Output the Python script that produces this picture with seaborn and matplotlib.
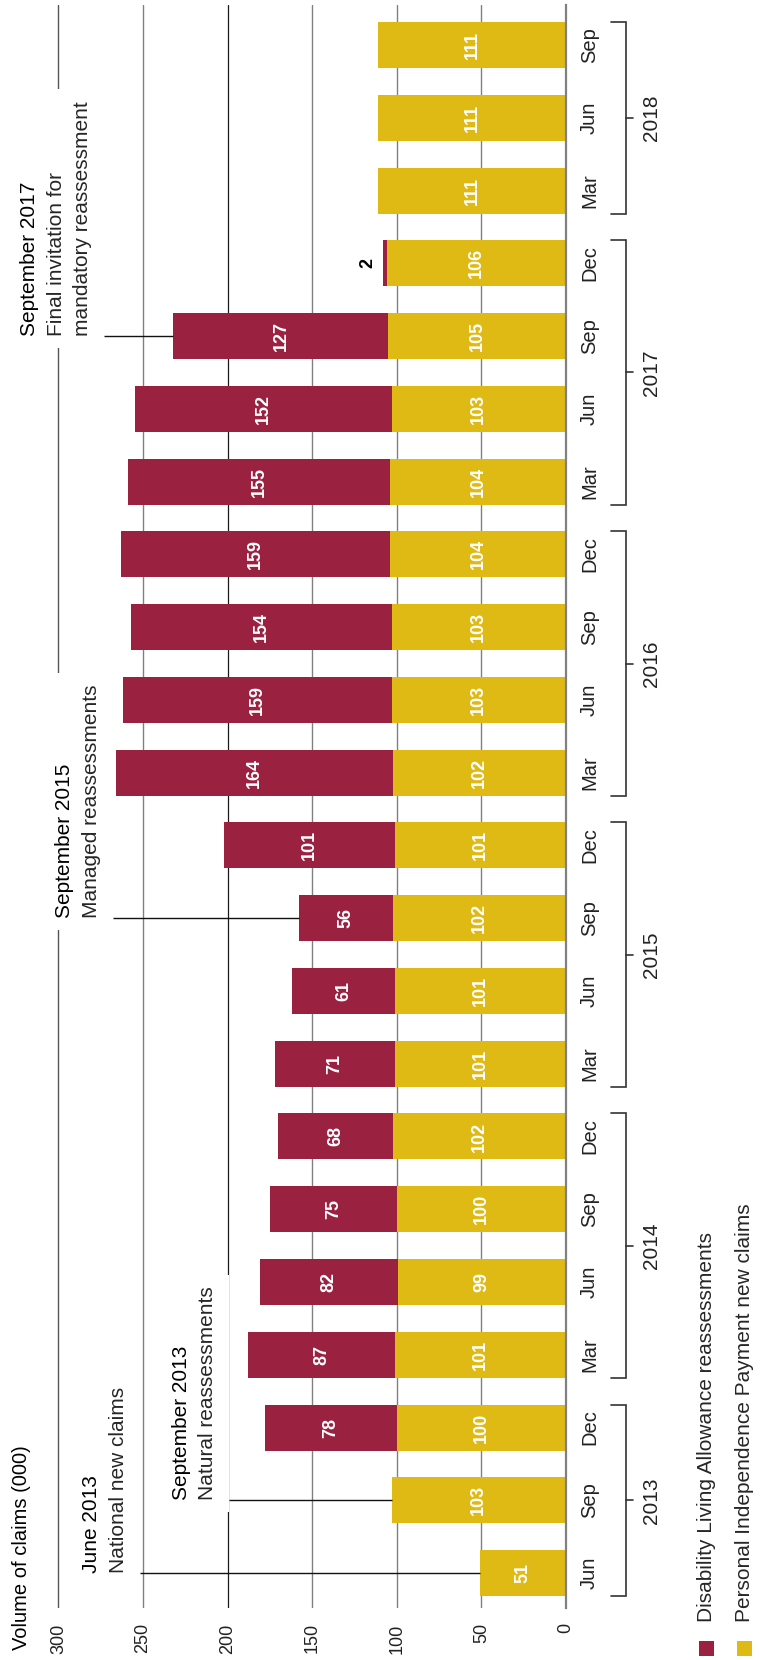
import numpy as np
import pandas as pd
import matplotlib
matplotlib.use("Agg")
import matplotlib.pyplot as plt
from matplotlib.patches import Rectangle
from matplotlib.transforms import Bbox
import seaborn as sns

# ---------------- data ----------------
years = [2013] * 3 + [2014] * 4 + [2015] * 4 + [2016] * 4 + [2017] * 4 + [2018] * 3
months = ["Jun", "Sep", "Dec"] + ["Mar", "Jun", "Sep", "Dec"] * 4 + ["Mar", "Jun", "Sep"]
pip_new_claims = [51, 103, 100, 101, 99, 100, 102, 101, 101, 102, 101,
                  102, 103, 103, 104, 104, 103, 105, 106, 111, 111, 111]
dla_reassessments = [0, 0, 78, 87, 82, 75, 68, 71, 61, 56, 101,
                     164, 159, 154, 159, 155, 152, 127, 2, 0, 0, 0]
value_ticks = [0, 50, 100, 150, 200, 250, 300]
year_groups = [2013, 2014, 2015, 2016, 2017, 2018]

ann_periods = ["Jun 2013", "Sep 2013", "Sep 2015", "Sep 2017"]
ann_titles = ["June 2013", "September 2013", "September 2015", "September 2017"]
ann_bodies = [["National new claims"], ["Natural reassessments"],
              ["Managed reassessments"], ["Final invitation for", "mandatory reassessment"]]
ann_leader_from = [252, 199, 268, 273]
ann_cover = [False, True, True, True]

legend_labels = ["Disability Living Allowance reassessments",
                 "Personal Independence Payment new claims"]

RED = "#9B2140"
GOLD = "#DFB914"

# ---------------- setup ----------------
sns.set_style("white")
plt.rcParams["font.family"] = ["Liberation Sans", "DejaVu Sans"]

W, H = 760, 1660
fig = plt.figure(figsize=(W / 100, H / 100), dpi=100)

X0_PX = 566.0          # pixel of value 0
PX_PER = 1.692         # pixels per unit
XMAX = 301
left_px = X0_PX - XMAX * PX_PER
top_px, bot_px = 5, 1608
ax = fig.add_axes([left_px / W, 1 - bot_px / H, (X0_PX - left_px) / W, (bot_px - top_px) / H])

keys = [f"{m} {y}" for m, y in zip(months, years)]
df = pd.DataFrame({"period": keys, "pip": pip_new_claims, "dla": dla_reassessments})
df["total"] = df["pip"] + df["dla"]
order = keys[::-1]
pos_of = {k: i for i, k in enumerate(order)}

BAR_W = 0.632
sns.barplot(data=df, x="total", y="period", order=order, orient="h", color=RED,
            saturation=1, width=BAR_W, errorbar=None, linewidth=0, ax=ax)
sns.barplot(data=df, x="pip", y="period", order=order, orient="h", color=GOLD,
            saturation=1, width=BAR_W, errorbar=None, linewidth=0, ax=ax)

ax.set_xlim(XMAX, 0)
ax.set_ylim(21.48, -0.55)
ax.set_xlabel("")
ax.set_ylabel("")

# x axis (value axis)
ax.set_xticks(value_ticks)
ax.set_xticklabels([str(v) for v in value_ticks], rotation=90, fontsize=13, color="#222222")
ax.tick_params(axis="x", length=0, pad=11)

# y axis (months) on the right
ax.yaxis.tick_right()
ax.set_yticks(range(len(order)))
ax.set_yticklabels([months[keys.index(k)] for k in order], rotation=90, va="center",
                   fontsize=14.5, color="#222222")
ax.tick_params(axis="y", length=0, pad=10)

for s in ["top", "left", "bottom"]:
    ax.spines[s].set_visible(False)
ax.spines["right"].set_color("#808080")
ax.spines["right"].set_linewidth(1.6)

ax.set_axisbelow(True)
ax.grid(axis="x", color="#808080", lw=1.0)
ax.grid(axis="y", visible=False)
gl = ax.xaxis.get_gridlines()
gl[4].set_color("#1a1a1a")
gl[4].set_linewidth(0.9)
gl[6].set_color("#555555")

# value labels
for k, p, d in zip(keys, pip_new_claims, dla_reassessments):
    y = pos_of[k]
    if p > 0:
        ax.text(p / 2, y, str(p), rotation=90, ha="center", va="center",
                color="white", fontsize=13, fontweight="bold", zorder=6)
    if d >= 10:
        ax.text(p + d / 2, y, str(d), rotation=90, ha="center", va="center",
                color="white", fontsize=13, fontweight="bold", zorder=6)
    elif d > 0:
        ax.text(p + d + 9, y, str(d), rotation=90, ha="center", va="center",
                color="black", fontsize=13, fontweight="bold", zorder=6)

# annotations
LSTEP = 19.0   # points between baselines
BASE_OFF = -11.5
fig.canvas.draw()
renderer = fig.canvas.get_renderer()
for per, title, body, lead, cover in zip(ann_periods, ann_titles, ann_bodies,
                                         ann_leader_from, ann_cover):
    y = pos_of[per]
    tot = int(df.loc[df["period"] == per, "total"].iloc[0])
    ax.plot([lead, tot], [y, y], color="#111111", lw=1.0, zorder=4,
            solid_capstyle="butt", clip_on=False)
    lines = [title] + body
    n = len(lines)
    texts = []
    for i, ln in enumerate(lines):
        off = BASE_OFF - (n - 1 - i) * LSTEP
        t = ax.annotate(ln, xy=(lead, y), xytext=(off, 0), textcoords="offset points",
                        rotation=90, rotation_mode="anchor", ha="left", va="baseline",
                        fontsize=15, color="black" if i == 0 else "#262626",
                        zorder=5, annotation_clip=False)
        texts.append(t)
    if cover:
        bbs = [t.get_window_extent(renderer) for t in texts]
        bb = Bbox.union(bbs)
        pad = 12
        inv = ax.transData.inverted()
        (dx0, dy0) = inv.transform((bb.x0 - pad, bb.y0 - pad))
        (dx1, dy1) = inv.transform((bb.x1 + pad, bb.y1 + pad))
        ax.add_patch(Rectangle((min(dx0, dx1), min(dy0, dy1)), abs(dx1 - dx0), abs(dy1 - dy0),
                               facecolor="white", edgecolor="none", zorder=2.5, clip_on=False))

# year brackets
def fx(px):
    return (px - left_px) / (X0_PX - left_px)

tr = ax.get_yaxis_transform()
half = BAR_W / 2
for yr in year_groups:
    ps = [pos_of[k] for k, yy in zip(keys, years) if yy == yr]
    a, b = max(ps) + half, min(ps) - half
    mid = (max(ps) + min(ps)) / 2
    ax.plot([fx(611), fx(626), fx(626), fx(611)], [a, a, b, b], transform=tr,
            color="#333333", lw=1.2, clip_on=False, solid_joinstyle="miter")
    ax.plot([fx(626), fx(633)], [mid, mid], transform=tr, color="#333333", lw=1.2, clip_on=False)
    ax.text(fx(652), mid, str(yr), transform=tr, rotation=90, ha="center", va="center",
            fontsize=15, color="#222222")

# axis title
fig.text(22 / W, 10 / H, "Volume of claims (000)", rotation=90, ha="center", va="bottom",
         fontsize=14.5, color="black")

# legend
for i, (lab, col) in enumerate(zip(legend_labels, [RED, GOLD])):
    sx = 699 + i * 38
    fig.add_artist(Rectangle((sx / W, (H - 1656) / H), 15 / W, 15 / H, transform=fig.transFigure,
                             facecolor=col, edgecolor="none"))
    fig.text((sx + 8) / W, (H - 1622) / H, lab, rotation=90, ha="center", va="bottom",
             fontsize=15, color="#262626")

fig.savefig("out.png", dpi=100)
